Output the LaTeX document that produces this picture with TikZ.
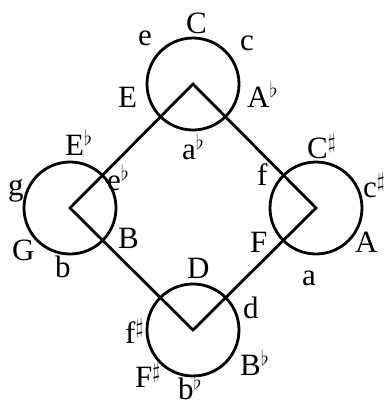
\documentclass[tikz,border=0pt]{standalone}
\usepackage{fontspec}
\setmainfont{Liberation Serif}
\usepackage{amssymb}
\usetikzlibrary{positioning}

\begin{document}
\begin{tikzpicture}[
    x=1pt, y=-1pt,
    keycircle/.style={circle, draw, line width=2.8pt, minimum size=92pt, inner sep=0pt},
    keyname/.style={anchor=base west, inner sep=0pt, font=\fontsize{31}{34}\selectfont},
    link/.style={line width=2.8pt},
]
\useasboundingbox (0,0) rectangle (384,405);

% the four circles, one at each corner of the square
\node[keycircle] (circC) at (193,84) {};
\node[keycircle] (circEflat) at (70,208) {};
\node[keycircle] (circCsharp) at (316,208) {};
\node[keycircle] (circD) at (193,330) {};

\draw[link] (circC.center) -- (circEflat.center) -- (circD.center)
    -- (circCsharp.center) -- cycle;

% top circle
\node[keyname] (lC) at (186,33) {C};
\node[keyname] (le) at (138,45) {e};
\node[keyname] (lc) at (240,50) {c};
\node[keyname] (lE) at (118,107) {E};
\node[keyname] (lAflat) at (247,107) {A$^\flat$};
\node[keyname] (laflat) at (182,159) {a$^\flat$};

% left circle
\node[keyname] (lEflat) at (65,155) {E$^\flat$};
\node[keyname] (lg) at (8,195) {g};
\node[keyname] (leflat) at (107,190) {e$^\flat$};
\node[keyname] (lG) at (12,260) {G};
\node[keyname] (lB) at (118,248) {B};
\node[keyname] (lb) at (55,277) {b};

% right circle
\node[keyname] (lCsharp) at (307,158) {C$^\sharp$};
\node[keyname] (lf) at (257,185) {f};
\node[keyname] (lcsharp) at (363,197) {c$^\sharp$};
\node[keyname] (lF) at (250,252) {F};
\node[keyname] (lA) at (355,252) {A};
\node[keyname] (la) at (302,285) {a};

% bottom circle
\node[keyname] (lD) at (187,278) {D};
\node[keyname] (ld) at (243,318) {d};
\node[keyname] (lfsharp) at (125,343) {f$^\sharp$};
\node[keyname] (lBflat) at (240,375) {B$^\flat$};
\node[keyname] (lFsharp) at (135,387) {F$^\sharp$};
\node[keyname] (lbflat) at (178,399) {b$^\flat$};
\end{tikzpicture}
\end{document}
